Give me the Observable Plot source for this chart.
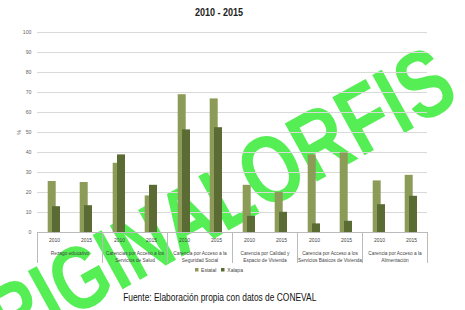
<!DOCTYPE html>
<html>
<head>
<meta charset="utf-8">
<script src="https://cdn.jsdelivr.net/npm/d3@7"></script>
<script src="https://cdn.jsdelivr.net/npm/@observablehq/plot@0.6"></script>
<style>
  html, body { margin: 0; padding: 0; background: #fff; }
  body { width: 465px; height: 310px; position: relative; overflow: hidden;
         font-family: "Liberation Sans", Arial, sans-serif; }
  #title, #chart, #legend, #caption { position: relative; z-index: 1; }
  #title { height: 22px; line-height: 24px; font-size: 10.5px; font-weight: bold; color: #222;
           text-align: center; padding-right: 27px; }
  #title span, #caption span { display: inline-block; transform: scaleX(0.86); }
  #chart svg { display: block; }
  #legend { height: 12px; display: flex; justify-content: center; padding-right: 22px; }
  #legend [class*="swatches"] { font-size: 5px !important; min-height: 0 !important; margin: 0 !important;
           justify-content: center; color: #444; font-family: "Liberation Sans", Arial, sans-serif !important; }
  #caption { margin-top: 15px; font-size: 10.5px; color: #111; text-align: center; padding-right: 26px; }
  #caption span { transform: scaleX(0.8); }
  #wm { position: absolute; left: 0; top: 0; width: 465px; height: 310px; pointer-events: none; z-index: 0; }
  #wm > span { position: absolute; left: 196px; top: 211px;
             transform: translate(-50%, -50%) rotate(-29deg) scale(0.78, 1);
             white-space: nowrap; font-size: 90px; font-weight: bold; color: #55ee55; line-height: 1;
             font-family: "Liberation Sans", Arial, sans-serif; }
  #wm .b { font-size: 1.07em; margin-left: -0.25em; }
</style>
</head>
<body>
<div id="wm"><span>ORIGINAL <span class="b">ORFIS</span></span></div>
<div id="title"><span>2010 - 2015</span></div>
<div id="chart"></div>
<div id="legend"></div>
<div id="caption"><span>Fuente: Elaboración propia con datos de CONEVAL</span></div>
<script>
const categories = [
  "Rezago educativo",
  "Carencias por Acceso a los\nServicios de Salud",
  "Carencia por Acceso a la\nSeguridad Social",
  "Carencia por Calidad y\nEspacio de Vivienda",
  "Carencia por Acceso a los\nServicios Básicos de Vivienda",
  "Carencia por Acceso a la\nAlimentación"
];
const years = ["2010", "2015"];
const series = ["Estatal", "Xalapa"];
const colors = ["#8c9c58", "#5a6b33"];
// values in category order, 2010 then 2015
const estatal = [25.5, 25, 34.6, 18.3, 68.9, 66.8, 23.6, 20.1, 38.8, 39.8, 25.8, 28.6];
const xalapa  = [12.9, 13.4, 38.8, 23.6, 51.3, 52.4, 8.1, 10.1, 4.3, 5.6, 13.9, 18.1];
const yTicks = [0, 10, 20, 30, 40, 50, 60, 70, 80, 90, 100];

const data = [];
categories.forEach((c, i) => years.forEach((y, j) => {
  data.push({cat: c, year: y, estatal: estatal[i * 2 + j], xalapa: xalapa[i * 2 + j]});
}));

const font = "Liberation Sans, Arial, sans-serif";
const H = 242, MT = 10, MB = 32;
const plotH = H - MT - MB;

const plot = Plot.plot({
  width: 465,
  height: H,
  marginLeft: 37,
  marginRight: 38,
  marginTop: MT,
  marginBottom: MB,
  style: {fontFamily: font, fontSize: "5px", color: "#444", background: "transparent"},
  fx: {domain: categories, padding: 0},
  x: {domain: years, padding: 0},
  y: {domain: [0, 100]},
  marks: [
    Plot.gridY(yTicks, {stroke: "#d9d9d9", strokeOpacity: 1}),
    Plot.axisY(yTicks, {tickSize: 0, tickPadding: 6, fontSize: 5.2, fill: "#666",
      label: "%", labelAnchor: "center", labelOffset: 20, labelArrow: "none"}),
    Plot.barY(data, {fx: "cat", x: "year", y: "estatal", fill: colors[0], insetLeft: 9.7, insetRight: 14.3}),
    Plot.barY(data, {fx: "cat", x: "year", y: "xalapa", fill: colors[1], insetLeft: 14, insetRight: 10}),
    Plot.ruleY([0], {stroke: "#bbbbbb"}),
    Plot.frame({anchor: "left", stroke: "#bbbbbb", insetTop: plotH, insetBottom: -30}),
    Plot.frame({anchor: "right", stroke: "#bbbbbb", insetTop: plotH, insetBottom: -30}),
    Plot.axisX({anchor: "bottom", tickSize: 0, tickPadding: 6, fontSize: 5, fill: "#444", label: null}),
    Plot.axisFx({anchor: "bottom", tickSize: 0, tickPadding: 17, fontSize: 4.8, fill: "#444", label: null,
      lineHeight: 1.5})
  ]
});
document.getElementById("chart").appendChild(plot);

const leg = Plot.legend({color: {domain: series, range: colors}, swatchSize: 3.5});
document.getElementById("legend").appendChild(leg);
</script>
</body>
</html>
